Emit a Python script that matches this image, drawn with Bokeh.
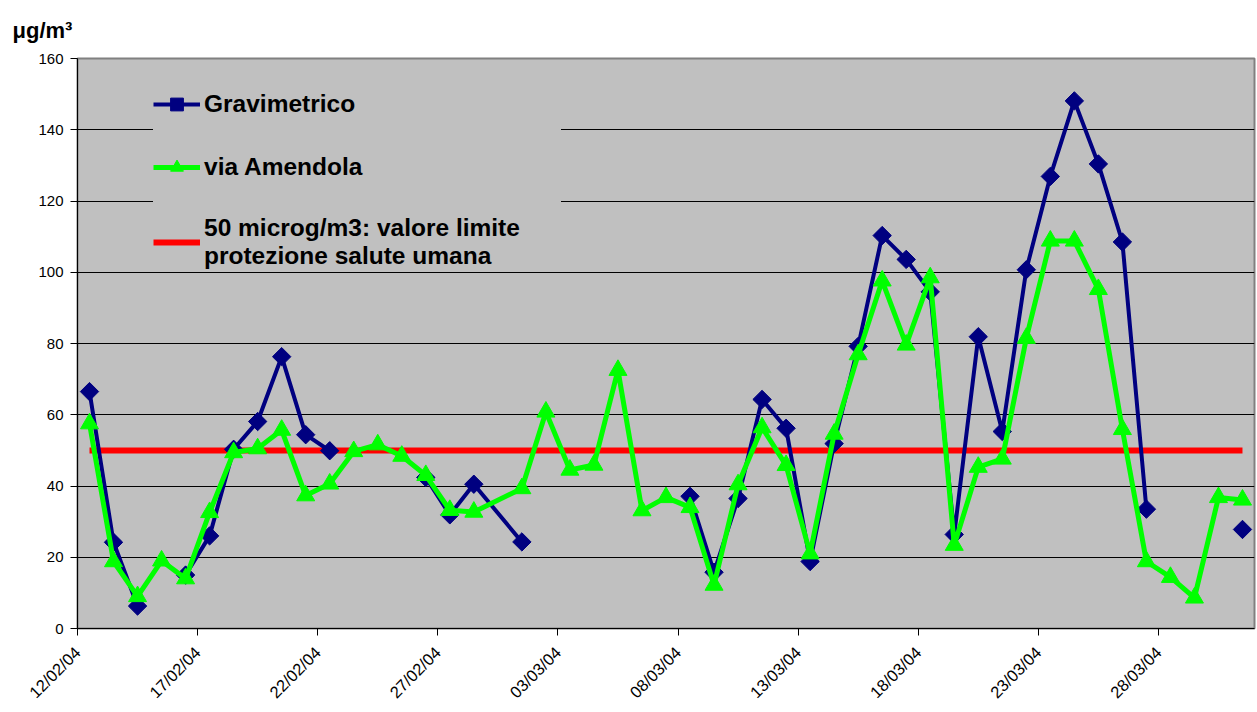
import math
import pandas as pd
from bokeh.plotting import figure
from bokeh.models import (Range1d, FixedTicker, DatetimeTickFormatter, Legend,
                          LegendItem, ColumnDataSource)
from bokeh.embed import file_html
from bokeh.resources import INLINE

# ---- data (29/02/04 has no row in the source table) ----
dates = [
    "12/02/04", "13/02/04", "14/02/04", "15/02/04", "16/02/04", "17/02/04",
    "18/02/04", "19/02/04", "20/02/04", "21/02/04", "22/02/04", "23/02/04",
    "24/02/04", "25/02/04", "26/02/04", "27/02/04", "28/02/04",
    "01/03/04", "02/03/04", "03/03/04", "04/03/04", "05/03/04", "06/03/04",
    "07/03/04", "08/03/04", "09/03/04", "10/03/04", "11/03/04", "12/03/04",
    "13/03/04", "14/03/04", "15/03/04", "16/03/04", "17/03/04", "18/03/04",
    "19/03/04", "20/03/04", "21/03/04", "22/03/04", "23/03/04", "24/03/04",
    "25/03/04", "26/03/04", "27/03/04", "28/03/04", "29/03/04", "30/03/04",
    "31/03/04",
]
gravimetrico = [
    66.5, 24.2, 6.3, None, 15.0, 26.0, 50.3, 58.1, 76.3, 54.4, 49.9, None,
    None, None, 42.4, 31.9, 40.5,
    24.3, None, None, None, None, None, None, 37.1, 15.8, 36.5, 64.3, 56.2,
    18.8, 51.9, 79.2, 110.3, 103.6, 94.5, 26.4, 81.9, 55.3, 100.7, 126.9, 148.1,
    130.4, 108.5, 33.5, None, None, None, 27.8,
]
via_amendola = [
    57.5, 18.8, 9.0, 19.0, 14.0, 32.6, 49.4, 50.5, 55.7, 37.3, 40.6, 49.7,
    51.6, 48.4, 43.0, 33.2, 32.7,
    39.3, 60.8, 44.5, 45.9, 72.5, 33.1, 36.8, 34.0, 12.2, 40.4, 56.4, 45.8,
    21.0, 54.6, 76.9, 97.6, 79.6, 98.5, 23.4, 45.3, 47.6, 81.5, 108.8, 108.8,
    95.2, 55.9, 18.8, 14.4, 8.6, 36.8, 36.1,
]
limit = [50] * len(dates)
y_ticks = [0, 20, 40, 60, 80, 100, 120, 140, 160]
labels = ["Gravimetrico", "via Amendola",
          "50 microg/m3: valore limite\nprotezione salute umana"]
unit_label = "\u03bcg/m\u00b3"

# ---- build ----
day = pd.to_datetime(dates, format="%d/%m/%y")
xc = day + pd.Timedelta(hours=12)
nan = float("nan")
src = ColumnDataSource(dict(
    x=xc,
    g=[nan if v is None else v for v in gravimetrico],
    a=[nan if v is None else v for v in via_amendola],
    lim=limit,
))

x_start = day[0]
x_end = day[-1] + pd.Timedelta(days=1)
tick_days = pd.date_range(x_start, x_end, freq="5D")
tick_ms = [t.value / 1e6 for t in tick_days if t < x_end]

FONT = "Liberation Sans"
p = figure(width=1257, height=712, x_axis_type="datetime",
           output_backend="svg", toolbar_location=None,
           x_range=Range1d(x_start, x_end), y_range=Range1d(0, 160),
           min_border_left=77, min_border_top=57, min_border_right=3,
           min_border_bottom=84, title=unit_label)
p.title.align = "left"
p.title.offset = -65
p.title.standoff = 31
p.title.text_font = FONT
p.title.text_font_style = "bold"
p.title.text_font_size = "22px"
p.title.text_color = "black"

p.background_fill_color = "#C0C0C0"
p.border_fill_color = "white"
p.outline_line_color = "#808080"
p.outline_line_width = 2

p.xgrid.grid_line_color = None
p.ygrid.grid_line_color = "black"
p.ygrid.grid_line_width = 1
p.ygrid.ticker = FixedTicker(ticks=y_ticks)

p.yaxis.ticker = FixedTicker(ticks=y_ticks)
p.xaxis.ticker = FixedTicker(ticks=tick_ms)
fmt = "%d/%m/%y"
p.xaxis.formatter = DatetimeTickFormatter(
    microseconds=fmt, milliseconds=fmt, seconds=fmt, minsec=fmt, minutes=fmt,
    hourmin=fmt, hours=fmt, days=fmt, months=fmt, years=fmt)
p.xaxis.major_label_orientation = math.pi / 4
for ax in (p.xaxis, p.yaxis):
    ax.axis_line_color = "black"
    ax.axis_line_width = 1
    ax.major_tick_line_color = "black"
    ax.major_tick_in = 0
    ax.major_tick_out = 7
    ax.minor_tick_line_color = None
    ax.major_label_text_font = FONT
    ax.major_label_text_color = "black"
p.yaxis.major_label_text_font_size = "15px"
p.xaxis.major_label_text_font_size = "16.5px"
p.yaxis.major_label_standoff = 7
p.xaxis.major_label_standoff = 14

r_lim = p.line("x", "lim", source=src, line_color="#FF0000", line_width=6)
r_gl = p.line("x", "g", source=src, line_color="#000080", line_width=4)
r_gm = p.scatter("x", "g", source=src, marker="square", angle=math.pi / 4,
                 size=13, fill_color="#000080", line_color="#000080")
r_al = p.line("x", "a", source=src, line_color="#00FF00", line_width=5)
r_am = p.scatter("x", "a", source=src, marker="triangle", size=18,
                 fill_color="#00FF00", line_color="#00FF00")

legend = Legend(items=[
    LegendItem(label=labels[0], renderers=[r_gl, r_gm]),
    LegendItem(label=labels[1], renderers=[r_al, r_am]),
    LegendItem(label=labels[2], renderers=[r_lim]),
], location=(76, 358))
legend.background_fill_color = "#C0C0C0"
legend.background_fill_alpha = 1
legend.border_line_color = None
legend.padding = 3
legend.margin = 0
legend.spacing = 31
legend.glyph_width = 47
legend.glyph_height = 32
legend.label_height = 24
legend.label_width = 357
legend.label_standoff = 4
legend.label_text_font = FONT
legend.label_text_font_style = "bold"
legend.label_text_font_size = "24.5px"
legend.label_text_color = "black"
legend.label_text_line_height = 1.08
p.add_layout(legend)

open("out.html", "w").write(file_html(p, INLINE))
